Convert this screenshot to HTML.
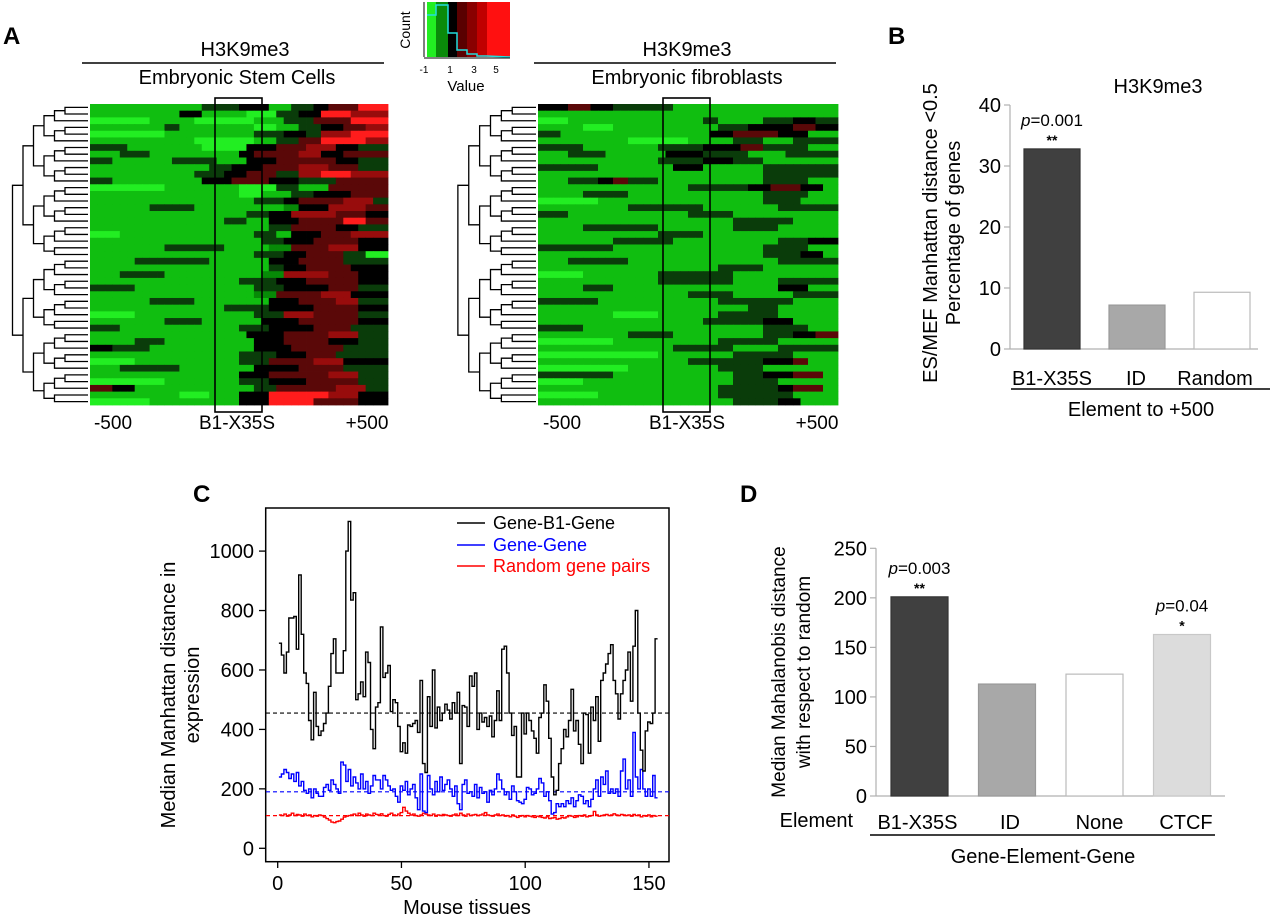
<!DOCTYPE html>
<html><head><meta charset="utf-8"><style>
html,body{margin:0;padding:0;background:#fff;}
svg{display:block;font-family:"Liberation Sans",Arial,sans-serif;}
</style></head><body>
<svg id="fig" width="1280" height="923" viewBox="0 0 1280 923" xmlns="http://www.w3.org/2000/svg">
<g>
<text x="3" y="44" font-size="24" font-weight="bold">A</text>
<text x="245" y="56" font-size="20" text-anchor="middle">H3K9me3</text>
<line x1="82" y1="63" x2="384" y2="63" stroke="#000" stroke-width="1.5"/>
<text x="237" y="84" font-size="20" text-anchor="middle">Embryonic Stem Cells</text>
<text x="687" y="56" font-size="20" text-anchor="middle">H3K9me3</text>
<line x1="534" y1="63" x2="836" y2="63" stroke="#000" stroke-width="1.5"/>
<text x="687" y="84" font-size="20" text-anchor="middle">Embryonic fibroblasts</text>
<text x="113" y="429" font-size="19" text-anchor="middle">-500</text>
<text x="237" y="429" font-size="19" text-anchor="middle">B1-X35S</text>
<text x="367" y="429" font-size="19" text-anchor="middle">+500</text>
<text x="562" y="429" font-size="19" text-anchor="middle">-500</text>
<text x="687" y="429" font-size="19" text-anchor="middle">B1-X35S</text>
<text x="817" y="429" font-size="19" text-anchor="middle">+500</text>
</g>
<g>
<rect x="427" y="2" width="9" height="55" fill="#22ee22"/>
<rect x="436" y="2" width="12" height="55" fill="#0a8a0a"/>
<rect x="448" y="2" width="9" height="55" fill="#000"/>
<rect x="457" y="2" width="10" height="55" fill="#5a0000"/>
<rect x="467" y="2" width="10" height="55" fill="#8a0000"/>
<rect x="477" y="2" width="10" height="55" fill="#c00000"/>
<rect x="487" y="2" width="23" height="55" fill="#ff1010"/>
<polyline points="427,15 436,15 436,5 448,5 448,33 457,33 457,50 467,50 467,54 477,54 477,56 487,56 510,57" fill="none" stroke="#22dddd" stroke-width="1.5"/>
<line x1="424" y1="2" x2="424" y2="57" stroke="#000"/>
<line x1="424" y1="58" x2="510" y2="58" stroke="#000"/>
<text x="410" y="30" font-size="14" text-anchor="middle" transform="rotate(-90 410 30)">Count</text>
<text x="424" y="73" font-size="10" text-anchor="middle">-1</text>
<text x="450" y="73" font-size="10" text-anchor="middle">1</text>
<text x="474" y="73" font-size="10" text-anchor="middle">3</text>
<text x="496" y="73" font-size="10" text-anchor="middle">5</text>
<text x="466" y="91" font-size="15" text-anchor="middle">Value</text>
</g>
<g id="heatmaps"></g>

<g>
<text x="888" y="44" font-size="24" font-weight="bold">B</text>
<text x="1158" y="93" font-size="20" text-anchor="middle">H3K9me3</text>
<text x="937" y="233" font-size="20" text-anchor="middle" transform="rotate(-90 937 233)">ES/MEF Manhattan distance &lt;0.5</text>
<text x="960" y="233" font-size="20" text-anchor="middle" transform="rotate(-90 960 233)">Percentage of genes</text>
<line x1="1011" y1="389" x2="1270" y2="389" stroke="#000" stroke-width="1.5"/>
<text x="1141" y="416" font-size="20" text-anchor="middle">Element  to +500</text>
<g id="barsB"></g>
</g>

<g>
<text x="193" y="502" font-size="24" font-weight="bold">C</text>
<rect x="265.7" y="508" width="403.3" height="353.7" fill="none" stroke="#000" stroke-width="1.5"/>
<text x="175" y="695" font-size="20" text-anchor="middle" transform="rotate(-90 175 695)">Median Manhattan distance in</text>
<text x="199" y="695" font-size="20" text-anchor="middle" transform="rotate(-90 199 695)">expression</text>
<text x="467" y="914" font-size="20" text-anchor="middle">Mouse tissues</text>
<g id="chartC"></g>
<g>
<line x1="457" y1="523" x2="485" y2="523" stroke="#000" stroke-width="1.5"/>
<text x="493" y="529" font-size="18">Gene-B1-Gene</text>
<line x1="457" y1="545" x2="485" y2="545" stroke="#0000ff" stroke-width="1.5"/>
<text x="493" y="551" font-size="18" fill="#0000ff">Gene-Gene</text>
<line x1="457" y1="566" x2="485" y2="566" stroke="#ff0000" stroke-width="1.5"/>
<text x="493" y="572" font-size="18" fill="#ff0000">Random gene pairs</text>
</g>
</g>

<g>
<text x="740" y="502" font-size="24" font-weight="bold">D</text>
<text x="785" y="672" font-size="19" text-anchor="middle" transform="rotate(-90 785 672)">Median Mahalanobis distance</text>
<text x="810" y="672" font-size="19" text-anchor="middle" transform="rotate(-90 810 672)">with respect to random</text>
<text x="853" y="827" font-size="20" text-anchor="end">Element</text>
<line x1="870" y1="835" x2="1215" y2="835" stroke="#000" stroke-width="1.5"/>
<text x="1043" y="863" font-size="20" text-anchor="middle">Gene-Element-Gene</text>
<g id="barsD"></g>
</g>
</svg>
<script>
const bCategories = ["B1-X35S", "ID", "Random"];
const bValues = [32.8, 7.2, 9.3];
const bTicks = [0, 10, 20, 30, 40];
const bNotes = ["p=0.001", "", ""];
const bStars = ["**", "", ""];
const dCategories = ["B1-X35S", "ID", "None", "CTCF"];
const dValues = [201, 113, 123, 163];
const dTicks = [0, 50, 100, 150, 200, 250];
const dNotes = ["p=0.003", "", "", "p=0.04"];
const dStars = ["**", "", "", "*"];
const cXTicks = [0, 50, 100, 150];
const cYTicks = [0, 200, 400, 600, 800, 1000];
const geneB1Gene = [690,650,590,660,775,775,780,670,920,720,590,555,430,365,525,410,380,395,420,455,545,655,705,590,590,590,665,1000,1100,835,860,500,520,560,510,660,625,400,335,475,490,745,575,590,615,460,500,490,410,325,355,320,415,410,420,430,390,565,285,255,510,410,600,405,475,430,455,485,465,435,490,455,525,285,480,475,410,580,545,590,400,455,425,440,410,445,375,430,530,430,670,680,590,455,380,410,240,240,455,385,455,430,395,370,320,440,455,550,495,370,240,180,195,285,335,400,375,430,535,395,430,350,285,455,450,320,475,430,510,360,565,590,620,655,685,565,520,435,520,565,600,660,495,680,800,455,330,260,395,425,420,455,705];
const geneGene = [240,250,265,255,235,250,225,255,210,225,195,185,200,170,200,185,175,175,205,215,195,230,215,200,185,290,280,225,265,210,240,220,200,250,200,225,185,210,245,230,230,200,245,230,210,195,200,175,155,210,195,225,180,200,215,170,130,250,125,120,245,200,180,225,190,240,195,215,230,200,175,210,150,130,215,230,185,190,175,215,170,205,185,190,155,195,180,200,250,230,200,180,190,165,210,190,160,155,150,165,205,200,180,185,200,235,220,175,190,160,115,120,150,140,150,140,160,150,170,140,160,180,175,150,160,140,165,200,230,175,240,215,260,185,200,185,200,175,260,300,200,230,175,390,240,200,265,200,175,200,175,245,170];
const randomPairs = [112,110,115,108,112,118,110,114,112,108,115,110,112,106,110,108,112,110,105,100,95,88,86,90,92,98,105,108,110,112,115,110,118,112,108,115,112,110,118,114,112,116,110,108,114,118,112,110,115,120,138,125,118,112,115,110,108,112,118,115,112,110,115,108,112,110,114,112,110,108,112,115,110,118,112,108,115,110,112,114,110,112,115,120,112,110,108,112,115,110,112,108,110,106,112,108,104,108,110,106,110,108,106,104,108,106,104,102,106,100,102,104,98,100,104,102,106,110,108,104,106,110,108,112,106,108,110,124,112,108,110,112,114,110,112,116,112,110,114,112,110,112,108,114,110,112,106,110,108,112,106,110,108];
const medianLevels = [455, 190, 110];
const esRows = ["g15 d5 k4 g3 d3 k2 r4 R4","g12 k3 g6 G4 d3 k3 R4 s5","G8 g6 G8 g4 d4 r5 R5","g10 d2 g10 G3 g3 d3 k3 r3 s3","G10 g12 d4 k3 d2 s4 R5","g14 G8 g3 d3 r3 R6 s3","d5 g10 G6 k4 r4 s4 k3 d4","g4 d4 g12 k2 r6 s3 k3 r6","d3 g8 d6 g4 k4 r8 k3 d4","g16 d3 k4 r5 s4 r4 d4","g14 d4 k3 r4 d3 s3 R4 s5","d3 g12 k4 r5 k4 d5 r7","G10 g10 G5 d3 g4 r8","g20 G3 g4 d3 k5 r5","g22 d4 k2 r6 s4 d2","g8 d6 g12 m2 k4 s5 r3","g21 d3 k3 s6 r4 k3","g18 d3 g3 k4 r6 R3 r3","g24 d3 r6 k3 d4","G4 g18 d3 g2 k4 r4 s5","g23 d3 k4 r6 k4","g10 d8 g6 m3 r5 s4 k4","g22 d4 k3 r5 d3 G3","g6 d10 g8 k4 r6 d6","g24 d2 k3 r6 k5","g4 d6 g13 m3 s6 r4 k4","g20 d5 k4 r7 k4","d6 g16 d4 k6 r4 d4","g22 m3 r6 s4 k5","g8 d6 g10 k4 r5 s3 d4","g18 d6 k6 r6 k4","G6 g16 d4 s4 r6 d4","g10 d5 g8 k5 r8 k4","d4 g16 d4 k6 r5 d5","g21 k5 r6 s4 d4","g6 d4 g12 k4 r6 k4 d4","k3 d5 g14 k5 r7 d6","g20 d5 k4 r4 d7","G6 g14 d4 r6 s4 k6","g4 d8 g10 k6 r6 d6","g20 k4 r8 s4 d4","G10 g10 d4 k5 r7 d4","r3 k3 g16 d3 r8 s4 d3","g12 G4 g4 k4 R8 s4 k4","G8 g12 k4 R6 r6 k4"];
const mefRows = ["k4 r3 k3 d8 g22","g40","G4 g18 d2 g6 d4 k3 d3","g6 G4 g14 d4 k6 r3 k3","d3 g20 k3 r6 k4 g4","g12 G8 g6 d4 g4 d6","d6 g10 d6 k5 r3 d6 g4","g4 d5 g8 k5 d6 g5 d7","g16 d6 k4 d4 g10","d8 g10 k4 g8 d10","g30 d10","g4 d4 k2 r2 d4 g14 d6 g4","g20 d8 k3 r4 k3 g2","g6 d6 g18 d6 g4","G8 g22 d5 g5","g12 d10 g10 d8","d4 g16 d6 g14","g26 d8 g6","g6 d10 g10 d6 g8","g16 d6 g18","g10 d8 g14 d4 k4","d10 g20 d6 g4","g30 d5 k3 g2","g4 d8 g20 d8","g24 d6 g10","G6 g10 d10 g14","g16 d10 g6 d8","g6 d4 g22 k4 g4","g20 d6 g8 d6","d8 g16 d10 g6","g28 d4 g8","g10 G6 g8 d8 g8","g22 d8 k4 g6","d6 g24 d6 g4","g12 d6 g12 d4 k3 r3","G10 g14 d8 g8","g18 d8 g6 d8","G16 g10 d8 g6","g20 d10 k4 r2 g4","G12 g12 d6 g10","d10 g16 d4 k4 r4 g2","G6 g20 d6 g8","g24 d8 k2 r4 g2","G8 g16 d10 g6","g26 d6 k3 g5"];

const NS = "http://www.w3.org/2000/svg";
function mk(tag, attrs, parent) {
  const e = document.createElementNS(NS, tag);
  for (const k in attrs) e.setAttribute(k, attrs[k]);
  if (parent) parent.appendChild(e);
  return e;
}
const palette = {G:"#22ee22", g:"#10be10", m:"#078a07", d:"#0a3c0a", k:"#000000", r:"#5a0808", s:"#980c0c", R:"#ff1c1c"};
function decode(row) {
  const out = [];
  row.split(" ").forEach(tok => {
    const c = tok[0], n = parseInt(tok.slice(1), 10);
    for (let i = 0; i < n; i++) out.push(c);
  });
  while (out.length < 40) out.push(out[out.length - 1]);
  return out.slice(0, 40);
}
function dendro(g, n, top, rowH, xLeaf, xRoot) {
  function build(a, b, depth) {
    if (a === b) return {y: top + (a + 0.5) * rowH, x: xLeaf};
    const mid = Math.floor((a + b) / 2);
    const l = build(a, mid, depth + 1), r = build(mid + 1, b, depth + 1);
    const x = xRoot + (xLeaf - xRoot) * (depth + 1) / 8 - 2;
    const xx = Math.min(x, Math.min(l.x, r.x) - 4);
    mk("polyline", {points: `${l.x},${l.y} ${xx},${l.y} ${xx},${r.y} ${r.x},${r.y}`, fill: "none", stroke: "#000", "stroke-width": 1.3}, g);
    return {y: (l.y + r.y) / 2, x: xx};
  }
  build(0, n - 1, 0);
}
function heatmap(rows, x0, x1, y0, y1, boxX0, boxX1, dx0, dx1, label) {
  const root = document.getElementById("heatmaps");
  const g = mk("g", {}, root);
  
  
  const nR = rows.length, cw = (x1 - x0) / 40, rh = (y1 - y0) / nR;
  rows.forEach((row, i) => {
    const cells = decode(row);
    cells.forEach((c, j) => {
      const r = mk("rect", {x: (x0 + j * cw).toFixed(2), y: (y0 + i * rh).toFixed(2), width: (cw + 0.4).toFixed(2), height: (rh + 0.4).toFixed(2), fill: palette[c]}, g);
      
      
    });
  });
  const box = mk("rect", {x: boxX0, y: y0 - 6, width: boxX1 - boxX0, height: y1 - y0 + 13, fill: "none", stroke: "#000", "stroke-width": 1.6}, g);
  
  
  const dg = mk("g", {}, g);
  
  
  dendro(dg, nR, y0, rh, dx1, dx0);
}
heatmap(esRows, 90, 388, 104, 405, 215, 262, 4, 88, "es-heatmap");
heatmap(mefRows, 538, 838, 104, 405, 663, 710, 449, 536, "mef-heatmap");

function barChart(gid, cats, vals, ticks, notes, stars, cfg) {
  const g = document.getElementById(gid);
  const vmax = ticks[ticks.length - 1];
  const yS = v => cfg.y0 - (v / vmax) * (cfg.y0 - cfg.yTop);
  mk("line", {x1: cfg.ax, y1: cfg.yTop, x2: cfg.ax, y2: cfg.y0, stroke: "#b0b0b0", "stroke-width": 1.2}, g);
  mk("line", {x1: cfg.ax, y1: cfg.y0, x2: cfg.axEnd, y2: cfg.y0, stroke: "#b0b0b0", "stroke-width": 1.2}, g);
  ticks.forEach(t => {
    mk("line", {x1: cfg.ax - 6, y1: yS(t), x2: cfg.ax, y2: yS(t), stroke: "#b0b0b0", "stroke-width": 1.2}, g);
    const tx = mk("text", {x: cfg.ax - 9, y: yS(t) + 7, "font-size": 20, "text-anchor": "end"}, g);
    tx.textContent = t;
    
    
  });
  cats.forEach((c, i) => {
    const bx = cfg.firstX + i * cfg.step;
    const r = mk("rect", {x: bx, y: yS(vals[i]), width: cfg.bw, height: cfg.y0 - yS(vals[i]), fill: cfg.fills[i], stroke: cfg.strokes[i], "stroke-width": 1.2}, g);
    
    
    const cx = bx + cfg.bw / 2 + (cfg.labelDx ? cfg.labelDx[i] : 0);
    const lt = mk("text", {x: cx, y: cfg.labelY, "font-size": 20, "text-anchor": "middle"}, g);
    lt.textContent = c;
    
    
    if (notes[i]) {
      const nt = mk("text", {x: bx + cfg.bw / 2, y: yS(vals[i]) - 23, "font-size": 17, "text-anchor": "middle"}, g);
      const it = mk("tspan", {"font-style": "italic"}, nt); it.textContent = "p";
      const rt = mk("tspan", {}, nt); rt.textContent = notes[i].slice(1);
      
      
      const st = mk("text", {x: bx + cfg.bw / 2, y: yS(vals[i]) - 4, "font-size": 14, "font-weight": "bold", "text-anchor": "middle"}, g);
      st.textContent = stars[i];
      
      
    }
  });
}
barChart("barsB", bCategories, bValues, bTicks, bNotes, bStars,
  {ax: 1010, axEnd: 1258, y0: 349, yTop: 105, firstX: 1024, step: 85, bw: 56, labelY: 385,
   fills: ["#404040", "#a8a8a8", "#ffffff"], strokes: ["#333", "#999", "#bbb"], labelDx: [0, -1, -7]});
barChart("barsD", dCategories, dValues, dTicks, dNotes, dStars,
  {ax: 876, axEnd: 1225, y0: 796, yTop: 548.3, firstX: 891, step: 87.5, bw: 57, labelY: 829,
   fills: ["#404040", "#a8a8a8", "#ffffff", "#dcdcdc"], strokes: ["#333", "#999", "#bbb", "#c8c8c8"], labelDx: [-2, 3, 5, 4]});

(function () {
  const g = document.getElementById("chartC");
  const xS = u => 277.7 + u * 2.475;
  const yS = v => 848.3 - v * 0.2972;
  cXTicks.forEach(t => {
    mk("line", {x1: xS(t), y1: 861.7, x2: xS(t), y2: 868, stroke: "#000", "stroke-width": 1.3}, g);
    const tx = mk("text", {x: xS(t), y: 890, "font-size": 20, "text-anchor": "middle"}, g);
    tx.textContent = t;
    
    
  });
  cYTicks.forEach(t => {
    mk("line", {x1: 259, y1: yS(t), x2: 265.7, y2: yS(t), stroke: "#000", "stroke-width": 1.3}, g);
    const tx = mk("text", {x: 254, y: yS(t) + 7, "font-size": 20, "text-anchor": "end"}, g);
    tx.textContent = t;
    
    
  });
  const colors = ["#000000", "#0000ff", "#ff0000"];
  const names = ["gene-b1-gene-line", "gene-gene-line", "random-pairs-line"];
  [geneB1Gene, geneGene, randomPairs].forEach((s, k) => {
    const ml = mk("line", {x1: 266, y1: yS(medianLevels[k]), x2: 669, y2: yS(medianLevels[k]), stroke: colors[k], "stroke-width": 1.2, "stroke-dasharray": "4,3"}, g);
    
    
  });
  [randomPairs, geneGene, geneB1Gene].forEach((s, kk) => {
    const k = 2 - kk;
    let pts = [];
    s.forEach((v, i) => {
      const u = i + 1;
      pts.push(xS(u - 0.5).toFixed(1) + "," + yS(v).toFixed(1));
      pts.push(xS(u + 0.5).toFixed(1) + "," + yS(v).toFixed(1));
    });
    const pl = mk("polyline", {points: pts.join(" "), fill: "none", stroke: colors[k], "stroke-width": 1.4}, g);
    
    
  });
})();
</script>
</body></html>
